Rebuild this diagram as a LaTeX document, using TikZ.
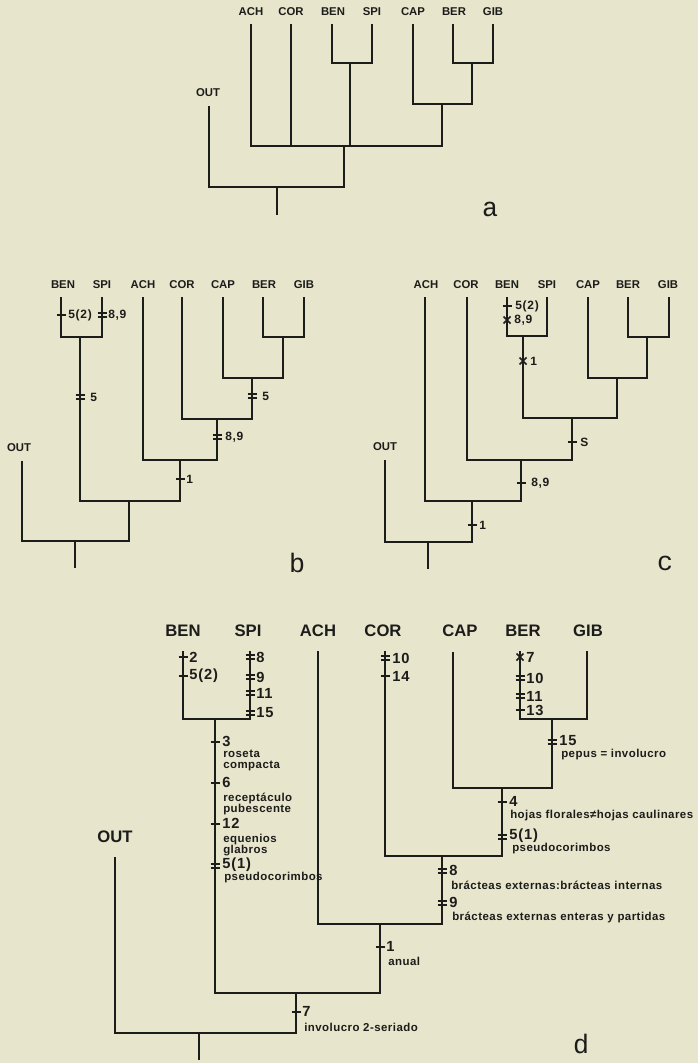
\documentclass[tikz,border=0pt]{standalone}
\usepackage{fontspec}
\setmainfont{Liberation Sans}
\newfontfamily\monof{Liberation Mono}
\newfontfamily\spacedf[LetterSpace=6]{Liberation Sans}
\newfontfamily\descfont[LetterSpace=4]{Liberation Sans}
\definecolor{paper}{RGB}{231,229,204}
\definecolor{ink}{RGB}{28,28,26}
\newcommand\tkS[2]{\draw[tick] (#1,#2) +(-4.5,0) -- +(4.5,0);}
\newcommand\tkD[2]{\draw[tick] (#1,#2) +(-4.5,-1.8) -- +(4.5,-1.8) +(-4.5,1.8) -- +(4.5,1.8);}
\newcommand\tkX[2]{\draw[tick] (#1,#2) +(-3.5,-3.5) -- +(3.5,3.5) +(-3.5,3.5) -- +(3.5,-3.5);}
\begin{document}
\begin{tikzpicture}[x=0.75pt,y=-0.75pt,
  br/.style={draw=ink,line width=1.4pt},
  tick/.style={draw=ink,line width=1.2pt},
  lab/.style={inner sep=0pt,text=ink,font=\bfseries\fontsize{8.5}{10}\selectfont},
  dlab/.style={inner sep=0pt,text=ink,font=\bfseries\fontsize{12.5}{14}\selectfont},
  tlab/.style={inner sep=0pt,anchor=west,text=ink,font=\spacedf\bfseries\fontsize{9}{10}\selectfont},
  num/.style={inner sep=0pt,anchor=west,text=ink,font=\spacedf\bfseries\fontsize{11}{12}\selectfont},
  desc/.style={inner sep=0pt,anchor=west,align=left,text=ink,font=\descfont\bfseries\fontsize{8.6}{8.3}\selectfont},
  letr/.style={inner sep=0pt,text=ink,font=\monof\fontsize{20}{22}\selectfont}]
\fill[paper] (0,0) rectangle (698,1063);

% ---------------- tree a ----------------
\node[lab] (laACH) at (251,12) {ACH};
\node[lab] (laCOR) at (291,12) {COR};
\node[lab] (laBEN) at (333,12) {BEN};
\node[lab] (laSPI) at (372,12) {SPI};
\node[lab] (laCAP) at (413,12) {CAP};
\node[lab] (laBER) at (454,12) {BER};
\node[lab] (laGIB) at (493,12) {GIB};
\node[lab] (laOUT) at (208,93) {OUT};
\node[letr] (la) at (490,209) {a};
\coordinate (aACH) at (251,24);
\coordinate (aCOR) at (291,24);
\coordinate (aBEN) at (332,24);
\coordinate (aSPI) at (372,24);
\coordinate (aCAP) at (413,24);
\coordinate (aBER) at (453,24);
\coordinate (aGIB) at (493,24);
\coordinate (aOUT) at (209,106);
\coordinate (aBS) at (350,63);
\coordinate (aBG) at (472,63);
\coordinate (aCBG) at (442,104);
\coordinate (aIN) at (344,146);
\coordinate (aR) at (277,187);
\coordinate (aB) at (277,215);
\draw[br] (aBEN) |- (aBS) -| (aSPI);
\draw[br] (aBER) |- (aBG) -| (aGIB);
\draw[br] (aCAP) |- (aCBG) -| (aBG);
\draw[br] (aACH) |- (aIN) -| (aCBG);
\draw[br] (aCOR) -- (aCOR |- aIN);
\draw[br] (aBS) -- (aBS |- aIN);
\draw[br] (aOUT) |- (aR) -| (aIN);
\draw[br] (aR) -- (aB);

% ---------------- tree b ----------------
\node[lab] (lbBEN) at (63,285) {BEN};
\node[lab] (lbSPI) at (102,285) {SPI};
\node[lab] (lbACH) at (143,285) {ACH};
\node[lab] (lbCOR) at (182,285) {COR};
\node[lab] (lbCAP) at (223,285) {CAP};
\node[lab] (lbBER) at (264,285) {BER};
\node[lab] (lbGIB) at (304,285) {GIB};
\node[lab] (lbOUT) at (19,448) {OUT};
\node[letr] (lb) at (297,563) {b};
\coordinate (bBEN) at (61,297);
\coordinate (bSPI) at (102,297);
\coordinate (bACH) at (143,297);
\coordinate (bCOR) at (182,297);
\coordinate (bCAP) at (223,297);
\coordinate (bBER) at (263,297);
\coordinate (bGIB) at (304,297);
\coordinate (bOUT) at (22,461);
\coordinate (bBS) at (80,337);
\coordinate (bBG) at (283,337);
\coordinate (bCBG) at (252,378);
\coordinate (bCO) at (217,419);
\coordinate (bAC) at (180,460);
\coordinate (bIN) at (129,501);
\coordinate (bR) at (75,541);
\coordinate (bB) at (75,568);
\draw[br] (bBEN) |- (bBS) -| (bSPI);
\draw[br] (bBER) |- (bBG) -| (bGIB);
\draw[br] (bCAP) |- (bCBG) -| (bBG);
\draw[br] (bCOR) |- (bCO) -| (bCBG);
\draw[br] (bACH) |- (bAC) -| (bCO);
\draw[br] (bBS) |- (bIN) -| (bAC);
\draw[br] (bOUT) |- (bR) -| (bIN);
\draw[br] (bR) -- (bB);
\tkS{61}{315}  \node[tlab] (tb1) at (68,315) {5(2)};
\tkD{102}{315} \node[tlab] (tb2) at (108,315) {8,9};
\tkD{80}{397}  \node[tlab] (tb3) at (90,397) {5};
\tkD{252}{396} \node[tlab] (tb4) at (262,396) {5};
\tkD{217}{437} \node[tlab] (tb5) at (225,437) {8,9};
\tkS{180}{479} \node[tlab] (tb6) at (186,479) {1};

% ---------------- tree c ----------------
\node[lab] (lcACH) at (426,285) {ACH};
\node[lab] (lcCOR) at (466,285) {COR};
\node[lab] (lcBEN) at (507,285) {BEN};
\node[lab] (lcSPI) at (547,285) {SPI};
\node[lab] (lcCAP) at (588,285) {CAP};
\node[lab] (lcBER) at (628,285) {BER};
\node[lab] (lcGIB) at (668,285) {GIB};
\node[lab] (lcOUT) at (385,447) {OUT};
\node[letr] (lc) at (665,563) {c};
\coordinate (cACH) at (425,297);
\coordinate (cCOR) at (467,297);
\coordinate (cBEN) at (507,297);
\coordinate (cSPI) at (547,297);
\coordinate (cCAP) at (588,297);
\coordinate (cBER) at (628,297);
\coordinate (cGIB) at (669,297);
\coordinate (cOUT) at (385,460);
\coordinate (cBS) at (523,336);
\coordinate (cBG) at (647,337);
\coordinate (cCBG) at (617,378);
\coordinate (cBSC) at (572,418);
\coordinate (cCO) at (521,460);
\coordinate (cAC) at (472,501);
\coordinate (cR) at (428,542);
\coordinate (cB) at (428,569);
\draw[br] (cBEN) |- (cBS) -| (cSPI);
\draw[br] (cBER) |- (cBG) -| (cGIB);
\draw[br] (cCAP) |- (cCBG) -| (cBG);
\draw[br] (cBS) |- (cBSC) -| (cCBG);
\draw[br] (cCOR) |- (cCO) -| (cBSC);
\draw[br] (cACH) |- (cAC) -| (cCO);
\draw[br] (cOUT) |- (cR) -| (cAC);
\draw[br] (cR) -- (cB);
\tkS{507}{306} \node[tlab] (tc1) at (515,306) {5(2)};
\tkX{507}{320} \node[tlab] (tc2) at (514,320) {8,9};
\tkX{523}{361} \node[tlab] (tc3) at (530,361) {1};
\tkS{572}{442} \node[tlab] (tc4) at (580,442) {S};
\tkS{521}{483} \node[tlab] (tc5) at (531,483) {8,9};
\tkS{472}{525} \node[tlab] (tc6) at (479,525) {1};

% ---------------- tree d ----------------
\node[dlab] (ldBEN) at (183,631) {BEN};
\node[dlab] (ldSPI) at (248,631) {SPI};
\node[dlab] (ldACH) at (318,631) {ACH};
\node[dlab] (ldCOR) at (383,631) {COR};
\node[dlab] (ldCAP) at (460,631) {CAP};
\node[dlab] (ldBER) at (523,631) {BER};
\node[dlab] (ldGIB) at (588,631) {GIB};
\node[dlab] (ldOUT) at (115,837) {OUT};
\node[letr] (ld) at (581,1044) {d};
\coordinate (dBEN) at (183,651);
\coordinate (dSPI) at (250,651);
\coordinate (dACH) at (318,651);
\coordinate (dCOR) at (385,651);
\coordinate (dCAP) at (453,652);
\coordinate (dBER) at (520,651);
\coordinate (dGIB) at (587,651);
\coordinate (dOUT) at (115,857);
\coordinate (dBS) at (215,719);
\coordinate (dBG) at (552,719);
\coordinate (dCBG) at (502,788);
\coordinate (dCO) at (442,856);
\coordinate (dAC) at (380,924);
\coordinate (dBA) at (296,993);
\coordinate (dR) at (199,1033);
\coordinate (dB) at (199,1060);
\draw[br] (dBEN) |- (dBS) -| (dSPI);
\draw[br] (dBER) |- (dBG) -| (dGIB);
\draw[br] (dCAP) |- (dCBG) -| (dBG);
\draw[br] (dCOR) |- (dCO) -| (dCBG);
\draw[br] (dACH) |- (dAC) -| (dCO);
\draw[br] (dBS) |- (dBA) -| (dAC);
\draw[br] (dOUT) |- (dR) -| (dBA);
\draw[br] (dR) -- (dB);
% BEN
\tkS{183}{657} \node[num] (n1) at (189,657) {2};
\tkS{183}{676} \node[num] (n2) at (189,676) {5(2)};
% SPI
\tkD{250}{657} \node[num] (n3) at (256,657) {8};
\tkD{250}{677} \node[num] (n4) at (256,677) {9};
\tkD{250}{693} \node[num] (n5) at (256,693) {11};
\tkD{250}{713} \node[num] (n6) at (256,713) {15};
% COR
\tkD{385}{658} \node[num] (n7) at (392,658) {10};
\tkS{385}{676} \node[num] (n8) at (392,676) {14};
% BER
\tkX{520}{657} \node[num] (n9) at (526,657) {7};
\tkD{520}{678} \node[num] (n10) at (526,678) {10};
\tkD{520}{696} \node[num] (n11) at (526,696) {11};
\tkS{520}{710} \node[num] (n12) at (526,710.5) {13};
% BEN-SPI stem
\tkS{215}{742} \node[num] (n13) at (222,741) {3};
\node[desc] (d13) at (223,760.5) {roseta\\compacta};
\tkS{215}{783} \node[num] (n14) at (222,782) {6};
\node[desc] (d14) at (223,804) {receptáculo\\pubescente};
\tkS{215}{824} \node[num] (n15) at (222,823) {12};
\node[desc] (d15) at (223,845) {equenios\\glabros};
\tkD{215}{866} \node[num] (n16) at (222,865) {5(1)};
\node[desc] (d16) at (224,877.5) {pseudocorimbos};
% BER-GIB stem
\tkD{552}{742} \node[num] (n17) at (559,741) {15};
\node[desc] (d17) at (561,755) {pepus = involucro};
% CAP-BG stem
\tkS{502}{802} \node[num] (n18) at (509,801) {4};
\node[desc] (d18) at (510,816) {hojas florales≠hojas caulinares};
\tkD{502}{837} \node[num] (n19) at (509,836) {5(1)};
\node[desc] (d19) at (512,849) {pseudocorimbos};
% COR stem
\tkD{442}{871} \node[num] (n20) at (449,870) {8};
\node[desc] (d20) at (451,885) {brácteas externas:brácteas internas};
\tkD{442}{903} \node[num] (n21) at (449,902) {9};
\node[desc] (d21) at (452,917) {brácteas externas enteras y partidas};
% ACH stem
\tkS{380}{947} \node[num] (n22) at (386,946) {1};
\node[desc] (d22) at (388,961) {anual};
% root stem
\tkS{296}{1012} \node[num] (n23) at (302,1011) {7};
\node[desc] (d23) at (304,1027) {involucro 2-seriado};
\end{tikzpicture}
\end{document}
